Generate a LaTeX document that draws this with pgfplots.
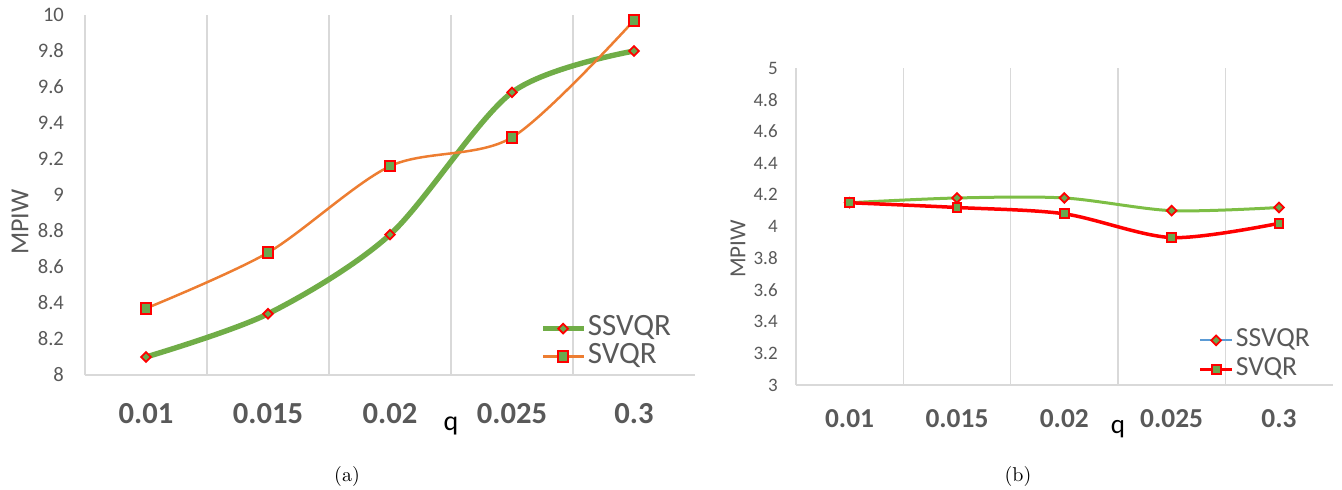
\documentclass[border=0pt]{standalone}
\usepackage{fontspec}
\usepackage{pgfplots}
\pgfplotsset{compat=1.18}
\newfontfamily\carlito{Carlito}
\definecolor{txtgrey}{HTML}{595959}
\definecolor{gridgrey}{HTML}{D9D9D9}
\definecolor{xlgreen}{HTML}{70AD47}
\definecolor{xlorange}{HTML}{ED7D31}
\definecolor{xlblue}{HTML}{5B9BD5}
\definecolor{mkgreen}{HTML}{6AA84F}
\definecolor{rtgreen}{HTML}{7DBE45}

\pgfplotsset{
  excel/.style={
    scale only axis,
    clip=false,
    xmin=-0.5, xmax=4.5,
    xtick={0,1,2,3,4},
    xticklabels={0.01,0.015,0.02,0.025,0.3},
    major tick length=0pt,
    axis line style={draw=none},
    extra x ticks={-0.5,0.5,1.5,2.5,3.5},
    extra x tick labels={},
    extra x tick style={grid=major, major grid style={gridgrey, line width=0.6pt}},
    /pgf/number format/assume math mode=true,
    yticklabel style={text=txtgrey, anchor=east},
    xticklabel style={text=txtgrey, anchor=center},
    legend cell align=left,
    legend style={draw=none, fill=none, anchor=west, inner sep=0pt, text=txtgrey,
      nodes={inner xsep=1pt, inner ysep=0pt, text depth=0pt, text height=0.65em}},
    every axis y label/.style={rotate=90, anchor=center, text=txtgrey},
    every axis x label/.style={anchor=center, text=black},
  },
  diam/.style={mark=square*, mark size=1.7pt,
    mark options={rotate=45, draw=red, fill=mkgreen, line width=0.9pt, solid}},
  sq/.style={mark=square*,
    mark options={draw=red, fill=mkgreen, line width=1pt, solid}},
}

\begin{document}
\begin{tikzpicture}
\path[use as bounding box] (0,0) rectangle (671pt,244.5pt);

% (a)
\begin{axis}[excel,
  at={(42.5pt,57pt)}, anchor=south west,
  width=305pt, height=180pt,
  ymin=8, ymax=10,
  ytick={8,8.2,8.4,8.6,8.8,9,9.2,9.4,9.6,9.8,10},
  yticklabel style={font=\carlito\fontsize{10.3}{12}\selectfont, xshift=-7pt},
  xticklabel style={font=\carlito\bfseries\fontsize{15.3}{18}\selectfont, yshift=-19.5pt},
  ylabel={MPIW},
  ylabel style={font=\carlito\fontsize{13}{15}\selectfont, at={(rel axis cs:-0.1066,0.425)}},
  xlabel={q},
  xlabel style={font=\carlito\fontsize{14}{16}\selectfont, at={(rel axis cs:0.6,-0.1417)}},
  legend style={at={(rel axis cs:0.746,0.09)}, font=\carlito\fontsize{15.5}{18}\selectfont, row sep=7.5pt},
  legend image code/.code={\draw[mark repeat=2,mark phase=2,#1] plot coordinates {(0pt,0pt)(10pt,0pt)(20pt,0pt)};},
]
\addplot[xlgreen, line width=2.7pt, smooth, diam] coordinates {
  (0,8.10) (1,8.34) (2,8.78) (3,9.57) (4,9.80)
};
\addlegendentry{SSVQR}
\addplot[xlorange, line width=1.25pt, smooth, sq, mark size=2.6pt] coordinates {
  (0,8.37) (1,8.68) (2,9.16) (3,9.32) (4,9.97)
};
\addlegendentry{SVQR}
\draw[gridgrey, line width=0.8pt] (rel axis cs:0,0) -- (rel axis cs:1,0);
\end{axis}

% (b)
\begin{axis}[excel,
  at={(397.95pt,52pt)}, anchor=south west,
  width=268.4pt, height=158.5pt,
  ymin=3, ymax=5,
  ytick={3,3.2,3.4,3.6,3.8,4,4.2,4.4,4.6,4.8,5},
  yticklabel style={font=\carlito\fontsize{9.5}{11}\selectfont, xshift=-5.6pt},
  xticklabel style={font=\carlito\bfseries\fontsize{13.7}{16}\selectfont, yshift=-16.75pt},
  ylabel={MPIW},
  ylabel style={font=\carlito\fontsize{11.5}{13}\selectfont, at={(rel axis cs:-0.108,0.429)}},
  xlabel={q},
  xlabel style={font=\carlito\fontsize{13.5}{16}\selectfont, at={(rel axis cs:0.6,-0.139)}},
  legend style={at={(rel axis cs:0.749,0.095)}, font=\carlito\fontsize{13.8}{16}\selectfont, row sep=8pt},
  legend image code/.code={\draw[mark repeat=2,mark phase=2,#1] plot coordinates {(0pt,0pt)(8pt,0pt)(16pt,0pt)};},
]
\addplot[rtgreen, line width=1.5pt, smooth, diam, legend image post style={xlblue, line width=1pt}] coordinates {
  (0,4.15) (1,4.18) (2,4.18) (3,4.10) (4,4.12)
};
\addlegendentry{SSVQR}
\addplot[red, line width=1.75pt, smooth, sq, mark size=2.2pt] coordinates {
  (0,4.15) (1,4.12) (2,4.08) (3,3.93) (4,4.02)
};
\addlegendentry{SVQR}
\draw[gridgrey, line width=0.8pt] (rel axis cs:0,0) -- (rel axis cs:1,0);
\end{axis}

\node[font=\fontsize{10}{12}\selectfont] at (173.5pt,6.5pt) {(a)};
\node[font=\fontsize{10}{12}\selectfont] at (509pt,6.5pt) {(b)};
\end{tikzpicture}
\end{document}
